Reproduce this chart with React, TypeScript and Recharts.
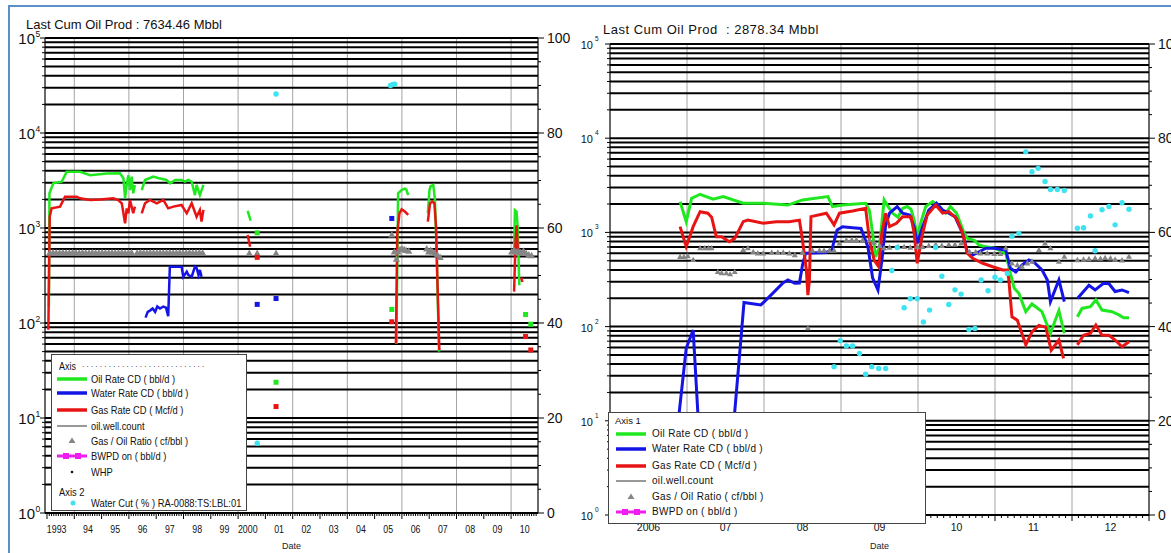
import React from 'react';
import { ComposedChart, Line, Scatter, XAxis, YAxis, CartesianGrid } from 'recharts';

type Pt = [number, number | null];

// ---- left well, 1993-2010 : [decimal year, value] ----
const leftOil: Pt[] = [
  [1993.07, 150], [1993.09, 2320], [1993.23, 2950], [1993.54, 3070], [1993.72, 3900], [1994.21, 3900],
  [1994.58, 3600], [1995.19, 3750], [1995.67, 3770], [1995.8, 3340], [1995.86, 2060], [1995.92, 2840],
  [1995.98, 3600], [1996.04, 2500], [1996.1, 3470], [1996.16, 2320], [1996.22, 2840], [1996.3, null],
  [1996.47, 2510], [1996.59, 3200], [1996.75, 3340], [1996.89, 3470], [1997.1, 3340], [1997.38, 3200],
  [1997.51, 2950], [1997.7, 3200], [1997.93, 3200], [1998.05, 3070], [1998.18, 3200], [1998.3, 3070],
  [1998.42, 2220], [1998.48, 2840], [1998.6, 2220], [1998.73, 2840], [1998.8, null],
  [2000.35, 1515], [2000.46, 1194], [2000.5, null],
  [2005.8, 60], [2005.86, 2320], [2005.99, 2510], [2006.1, 2600], [2006.16, 2550], [2006.23, 2220], [2006.3, null],
  [2006.95, 1428], [2007.01, 2512], [2007.05, 2760], [2007.15, 2837], [2007.21, 1972], [2007.27, 600],
  [2007.36, 50], [2007.4, null],
  [2010.11, 600], [2010.14, 1540], [2010.2, 1490], [2010.24, 1030], [2010.3, 250],
];
const leftWater: Pt[] = [
  [1996.61, 114], [1996.69, 131], [1996.77, 135], [1996.87, 142], [1996.96, 131], [1997.04, 149],
  [1997.14, 142], [1997.26, 149], [1997.36, 145], [1997.44, 118], [1997.5, 392], [1997.93, 392],
  [1997.99, 307], [1998.12, 347], [1998.18, 320], [1998.3, 307], [1998.42, 392], [1998.48, 380],
  [1998.55, 320], [1998.6, 362], [1998.66, 307],
];
const leftGas: Pt[] = [
  [1993.05, 85], [1993.1, 1315], [1993.17, 1611], [1993.48, 1678], [1993.66, 2138], [1994.09, 2138],
  [1994.21, 2055], [1994.58, 1972], [1994.94, 2000], [1995.43, 2055], [1995.61, 1972], [1995.74, 1820],
  [1995.86, 1120], [1995.92, 1611], [1995.98, 1428], [1996.04, 1972], [1996.16, 1428], [1996.22, 1678],
  [1996.3, null], [1996.47, 1428], [1996.59, 1820], [1996.77, 1972], [1997.02, 1820], [1997.26, 1972],
  [1997.44, 1611], [1997.63, 1678], [1997.93, 1746], [1998.12, 1428], [1998.3, 1820], [1998.48, 1315],
  [1998.6, 1550], [1998.66, 1166], [1998.73, 1550], [1998.8, null],
  [2000.35, 843], [2000.44, 633], [2000.5, null],
  [2005.78, 61], [2005.83, 885], [2005.91, 1428], [2005.99, 1574], [2006.11, 1490], [2006.23, 1371], [2006.3, null],
  [2006.95, 1166], [2007.03, 1820], [2007.11, 1900], [2007.19, 1820], [2007.25, 1030], [2007.3, 284],
  [2007.37, 52], [2007.4, null],
  [2010.11, 214], [2010.16, 700], [2010.2, 1070], [2010.25, 560], [2010.3, null],
  [2010.37, 300], [2010.41, 270],
];
const leftGor: Pt[] = [
  [1993.1, 545], [1993.22, 550], [1993.34, 545], [1993.46, 545], [1993.58, 550], [1993.7, 545],
  [1993.82, 545], [1993.94, 550], [1994.06, 545], [1994.18, 545], [1994.3, 550], [1994.42, 545],
  [1994.54, 545], [1994.66, 550], [1994.78, 545], [1994.9, 545], [1995.02, 550], [1995.14, 545],
  [1995.26, 545], [1995.38, 550], [1995.5, 545], [1995.62, 545], [1995.74, 550], [1995.86, 545],
  [1995.98, 545], [1996.1, 550], [1996.3, 545], [1996.42, 550], [1996.54, 545], [1996.66, 545],
  [1996.78, 550], [1996.9, 545], [1997.02, 545], [1997.14, 550], [1997.26, 545], [1997.38, 545],
  [1997.5, 550], [1997.62, 545], [1997.74, 545], [1997.86, 550], [1997.98, 545], [1998.1, 545],
  [1998.22, 550], [1998.34, 545], [1998.46, 545], [1998.58, 550], [1998.7, 545],
  [2000.41, 540], [2000.7, 540], [2001.39, 540],
  [2005.63, 845], [2005.72, 560], [2005.8, 470], [2005.86, 560], [2005.93, 590], [2006.0, 600],
  [2006.08, 590], [2006.15, 580], [2006.25, 570],
  [2006.91, 600], [2006.98, 560], [2007.05, 580], [2007.12, 560], [2007.2, 540], [2007.3, 520], [2007.4, 490],
  [2010.02, 560], [2010.1, 580], [2010.18, 560], [2010.26, 560], [2010.35, 550], [2010.45, 570],
  [2010.55, 540], [2010.65, 520], [2010.75, 510],
];
const leftOilPts: Pt[] = [[2000.7, 890], [2001.39, 23.8], [2005.63, 139], [2010.53, 123], [2010.72, 97]];
const leftWaterPts: Pt[] = [[2000.7, 157], [2001.39, 181], [2005.63, 1260]];
const leftGasPts: Pt[] = [[2000.7, 491], [2001.39, 13.2], [2005.63, 103], [2010.53, 72], [2010.72, 52]];
const leftWaterCut: Pt[] = [[2000.7, 14.7], [2001.39, 88.2], [2005.58, 90.0], [2005.66, 90.2], [2005.74, 90.3]];

// ---- right well, 2006-2012 ----
const rightOil: Pt[] = [
  [2006.91, 2120], [2006.99, 1300], [2007.06, 2300], [2007.17, 2540], [2007.34, 2250], [2007.47, 2400],
  [2007.73, 2040], [2007.99, 2040], [2008.31, 1950], [2008.5, 2210], [2008.83, 2400], [2008.89, 1880],
  [2009.02, 1950], [2009.32, 2040], [2009.37, 1700], [2009.41, 980], [2009.45, 550], [2009.5, 700],
  [2009.56, 2210], [2009.6, 1950], [2009.67, 1600], [2009.74, 1450], [2009.8, 1800], [2009.86, 1880],
  [2009.91, 1750], [2009.95, 1350], [2009.99, 900], [2010.04, 1300], [2010.1, 1880], [2010.19, 2120],
  [2010.28, 1880], [2010.36, 1600], [2010.42, 1880], [2010.5, 1600], [2010.6, 980], [2010.64, 865],
  [2010.73, 825], [2010.79, 735], [2010.88, 705], [2011.0, 680], [2011.14, 600], [2011.2, 368],
  [2011.25, 255], [2011.31, 226], [2011.4, 144], [2011.48, 174], [2011.61, 144], [2011.72, 85],
  [2011.83, 148], [2011.9, 85], [2011.95, null],
  [2012.07, 127], [2012.13, 156], [2012.24, 163], [2012.31, 192], [2012.39, 150], [2012.52, 144],
  [2012.61, 133], [2012.67, 124], [2012.74, 124],
];
const rightWater: Pt[] = [
  [2006.86, 1.5], [2006.9, 12.5], [2006.99, 59], [2007.08, 92], [2007.14, 12.5], [2007.18, 1.5],
  [2007.58, 1.5], [2007.62, 12.5], [2007.71, 92], [2007.74, 180], [2007.85, 175], [2007.96, 170],
  [2008.09, 216], [2008.24, 288], [2008.31, 313], [2008.4, 288], [2008.46, 290], [2008.5, 450],
  [2008.54, 600], [2008.8, 610], [2008.88, 650], [2008.95, 1060], [2009.02, 1150], [2009.15, 1120],
  [2009.26, 1100], [2009.35, 700], [2009.41, 330], [2009.48, 245], [2009.53, 500], [2009.58, 1200],
  [2009.63, 1600], [2009.73, 1880], [2009.8, 1600], [2009.89, 1530], [2009.95, 1150], [2009.99, 765],
  [2010.06, 1150], [2010.14, 1720], [2010.24, 2040], [2010.32, 1720], [2010.4, 1600], [2010.48, 1470],
  [2010.58, 977], [2010.64, 620], [2010.71, 575], [2010.79, 620], [2010.88, 680], [2010.99, 680],
  [2011.14, 650], [2011.2, 416], [2011.27, 380], [2011.35, 450], [2011.44, 509], [2011.52, 470],
  [2011.61, 400], [2011.68, 313], [2011.72, 184], [2011.83, 313], [2011.9, 184], [2011.95, null],
  [2012.07, 199], [2012.22, 275], [2012.3, 245], [2012.41, 288], [2012.48, 285], [2012.56, 236],
  [2012.65, 245], [2012.74, 229],
];
const rightGas: Pt[] = [
  [2006.91, 1150], [2006.99, 705], [2007.08, 1150], [2007.17, 1660], [2007.27, 1600], [2007.32, 1450],
  [2007.38, 900], [2007.45, 900], [2007.55, 795], [2007.62, 865], [2007.73, 1300], [2007.79, 1350],
  [2007.99, 1250], [2008.16, 1300], [2008.33, 1300], [2008.46, 1350], [2008.5, 825], [2008.55, 400],
  [2008.57, 216], [2008.59, 313], [2008.61, 1470], [2008.81, 1600], [2008.91, 1200], [2008.98, 1600],
  [2009.15, 1690], [2009.32, 1800], [2009.37, 825], [2009.43, 509], [2009.49, 432], [2009.53, 977],
  [2009.58, 1600], [2009.63, 1150], [2009.72, 1250], [2009.8, 1470], [2009.91, 1470], [2009.95, 977],
  [2009.99, 470], [2010.06, 977], [2010.12, 1530], [2010.23, 1950], [2010.32, 1600], [2010.4, 1660],
  [2010.5, 1410], [2010.58, 977], [2010.64, 600], [2010.71, 530], [2010.84, 470], [2010.97, 432],
  [2011.1, 400], [2011.16, 400], [2011.18, 313], [2011.22, 127], [2011.29, 117], [2011.4, 64],
  [2011.48, 88], [2011.57, 103], [2011.66, 98], [2011.73, 56], [2011.83, 72], [2011.89, 46], [2011.95, null],
  [2012.07, 64], [2012.15, 81], [2012.24, 85], [2012.31, 104], [2012.39, 81], [2012.48, 81],
  [2012.56, 72], [2012.65, 61], [2012.74, 69],
];
const rightGor: Pt[] = [
  [2006.91, 550], [2006.96, 550], [2007.01, 560], [2007.08, 510], [2007.17, 680], [2007.23, 680],
  [2007.28, 680], [2007.32, 680], [2007.4, 380], [2007.45, 370], [2007.51, 370], [2007.56, 360],
  [2007.62, 380], [2007.73, 650], [2007.79, 680], [2007.86, 620], [2007.92, 600], [2007.99, 600],
  [2008.1, 610], [2008.18, 610], [2008.25, 610], [2008.33, 600], [2008.4, 575], [2008.5, 610],
  [2008.57, 96], [2008.63, 640], [2008.72, 640], [2008.78, 640], [2008.85, 640], [2008.91, 640],
  [2008.98, 765], [2009.07, 825], [2009.14, 830], [2009.2, 830], [2009.28, 825], [2009.37, 825],
  [2009.43, 780], [2009.5, 720], [2009.56, 680], [2009.63, 690], [2009.74, 700], [2009.82, 700],
  [2009.9, 690], [2009.99, 700], [2010.06, 700], [2010.14, 720], [2010.23, 740], [2010.31, 720],
  [2010.4, 740], [2010.48, 740], [2010.56, 765], [2010.67, 620], [2010.75, 620], [2010.81, 600],
  [2010.9, 600], [2010.99, 590], [2011.07, 590], [2011.14, 680], [2011.22, 470], [2011.29, 450],
  [2011.35, 432], [2011.42, 470], [2011.48, 490], [2011.57, 650], [2011.65, 765], [2011.72, 680],
  [2011.83, 490], [2011.9, 552], [2012.07, 509], [2012.15, 515], [2012.22, 520], [2012.3, 530],
  [2012.37, 525], [2012.43, 535], [2012.5, 530], [2012.56, 515], [2012.65, 505], [2012.74, 552],
];
const rightWaterCut: Pt[] = [
  [2008.91, 31.5], [2008.99, 37.0], [2009.07, 35.9], [2009.15, 35.9], [2009.24, 34.3], [2009.32, 29.9],
  [2009.4, 31.5], [2009.49, 31.1], [2009.58, 31.1], [2009.66, 51.9], [2009.73, 56.8], [2009.82, 44.0],
  [2009.9, 45.9], [2009.99, 45.9], [2010.07, 41.0], [2010.15, 43.5], [2010.23, 56.8], [2010.31, 50.7],
  [2010.4, 44.7], [2010.48, 47.8], [2010.56, 46.9], [2010.66, 39.4], [2010.74, 39.6], [2010.82, 49.9],
  [2010.91, 47.6], [2011.0, 50.5], [2011.07, 49.9], [2011.16, 51.3], [2011.22, 59.2], [2011.31, 59.8],
  [2011.4, 77.1], [2011.48, 72.9], [2011.56, 73.6], [2011.65, 70.8], [2011.72, 69.1], [2011.81, 69.1],
  [2011.9, 68.9], [2012.07, 60.9], [2012.15, 61.0], [2012.24, 63.5], [2012.3, 56.1], [2012.39, 64.8],
  [2012.48, 65.5], [2012.56, 61.6], [2012.65, 66.3], [2012.74, 64.9],
];

const leftYearLabels = ['1993', '94', '95', '96', '97', '98', '99', '2000', '01', '02', '03', '04', '05', '06', '07', '08', '09', '10'];
const rightYearLabels = ['2006', '07', '08', '09', '10', '11', '12'];
const leftTitle = 'Last Cum Oil Prod : 7634.46 Mbbl';
const rightTitle = 'Last Cum Oil Prod  : 2878.34 Mbbl';

const GREEN = '#1fe81f';
const BLUE = '#1414e6';
const RED = '#e81414';
const GREY = '#858585';
const CYAN = '#3de3f0';
const MAGENTA = '#f01cf0';
const FONT = '"Liberation Sans", Arial, sans-serif';

const logTicks = [0, 1, 2, 3, 4].flatMap((e) => [1, 2, 3, 4, 5, 6, 7, 8, 9].map((m) => m * 10 ** e)).concat(100000);
const pctTicks = Array.from({ length: 21 }, (_, i) => i * 5);

const rows = (pts: Pt[]) => pts.map(([t, v]) => ({ t, v }));

const L = {
  width: 578, top: 38, left: 45, right: 538, bottom: 513, xH: 40, leftW: 45, rightW: 40,
  domain: [1992.927, 2010.985], firstYear: 1993, yearLabels: leftYearLabels,
  xFont: 11, xScale: 0.8, xDy: 20, dx4: -4,
  logFont: 15, logGap: 10, logDy: 5.5, supFont: 8.5, supDx: 0.5, supDy: -1,
  pctFont: 14, lineW: 2.5, tri: 3.6,
};
const R = {
  width: 593, top: 44, left: 32, right: 571, bottom: 515, xH: 38, leftW: 32, rightW: 22,
  domain: [2006, 2013], firstYear: 2006, yearLabels: rightYearLabels,
  xFont: 10.5, xScale: 1, xDy: 16, dx4: 0,
  logFont: 11, logGap: 17, logDy: 5, supFont: 6.5, supDx: 2, supDy: -3,
  pctFont: 14, lineW: 3, tri: 3,
};

const monthTicks = (d: number[]) => {
  const out: number[] = [];
  for (let y = Math.floor(d[0]); y <= Math.ceil(d[1]); y++) {
    for (let m = 0; m < 12; m++) {
      const v = +(y + m / 12).toFixed(4);
      if (v >= d[0] && v <= d[1]) out.push(v);
    }
  }
  return out;
};
const yearTicks = (d: number[]) => {
  const out: number[] = [];
  for (let y = Math.ceil(d[0]); y <= d[1]; y++) out.push(y);
  return out;
};

const MonthTick = ({ x, payload, cfg }: any) => {
  const v = payload.value;
  const yr = Math.floor(v + 1e-6);
  const f = v - yr;
  const isYear = f < 0.001;
  const label = Math.abs(f - 0.5) < 0.001 ? cfg.yearLabels[yr - cfg.firstYear] : null;
  return (
    <g>
      <line x1={x} x2={x} y1={cfg.bottom} y2={cfg.bottom + (isYear ? 6 : 3)} stroke="#000" />
      {label && (
        <text
          transform={`translate(${x + (label.length === 4 ? cfg.dx4 : 0)},${cfg.bottom + cfg.xDy}) scale(${cfg.xScale},1)`}
          textAnchor="middle" fontSize={cfg.xFont} fill="#111" fontFamily={FONT}
        >
          {label}
        </text>
      )}
    </g>
  );
};

const LogTick = ({ y, payload, cfg }: any) => {
  const e = Math.log10(payload.value);
  const major = Math.abs(e - Math.round(e)) < 1e-6;
  const tx = cfg.left - cfg.logGap;
  return (
    <g>
      <line x1={cfg.left - (major ? 5 : 3)} x2={cfg.left} y1={y} y2={y} stroke="#000" />
      {major && (
        <>
          <text x={tx} y={y + cfg.logDy} textAnchor="end" fontSize={cfg.logFont} fill="#111" fontFamily={FONT}>10</text>
          <text x={tx + cfg.supDx} y={y + cfg.supDy} fontSize={cfg.supFont} fill="#111" fontFamily={FONT}>{Math.round(e)}</text>
        </>
      )}
    </g>
  );
};

const PctTick = ({ y, payload, cfg }: any) => {
  const v = payload.value;
  const major = v % 20 === 0;
  return (
    <g>
      <line x1={cfg.right} x2={cfg.right + (major ? 6 : 3)} y1={y} y2={y} stroke="#000" />
      {major && (
        <text x={cfg.right + 9} y={y + 5} fontSize={cfg.pctFont} fill="#111" fontFamily={FONT}>{v}</text>
      )}
    </g>
  );
};

const triShape = (s: number) => (p: any) => (
  <polygon points={`${p.cx},${p.cy - s * 1.1} ${p.cx - s},${p.cy + s * 0.7} ${p.cx + s},${p.cy + s * 0.7}`} fill={GREY} />
);
const squareShape = (color: string) => (p: any) => (
  <rect x={p.cx - 2.5} y={p.cy - 2.5} width={5} height={5} fill={color} />
);
const dotShape = (p: any) => <circle cx={p.cx} cy={p.cy} r={2.7} fill={CYAN} />;

function Panel({ cfg, children }: any) {
  return (
    <ComposedChart width={cfg.width} height={553} margin={{ top: cfg.top, right: 0, bottom: 0, left: 0 }}>
      <XAxis
        xAxisId="x" type="number" dataKey="t" domain={cfg.domain} allowDataOverflow
        ticks={monthTicks(cfg.domain)} interval={0} tickLine={false} height={cfg.xH}
        axisLine={{ stroke: '#000' }} tick={(p: any) => <MonthTick {...p} cfg={cfg} />}
        label={{ value: 'Date', position: 'insideBottom', offset: 4, fontSize: 9, fill: '#222', fontFamily: FONT }}
      />
      <XAxis xAxisId="yr" type="number" dataKey="t" domain={cfg.domain} allowDataOverflow ticks={yearTicks(cfg.domain)} hide />
      <YAxis
        yAxisId="log" dataKey="v" scale="log" domain={[1, 100000]} allowDataOverflow ticks={logTicks} interval={0}
        width={cfg.leftW} tickLine={false} axisLine={{ stroke: '#000' }} tick={(p: any) => <LogTick {...p} cfg={cfg} />}
      />
      <YAxis
        yAxisId="pct" dataKey="v" orientation="right" domain={[0, 100]} allowDataOverflow ticks={pctTicks} interval={0}
        width={cfg.rightW} tickLine={false} axisLine={{ stroke: '#000' }} tick={(p: any) => <PctTick {...p} cfg={cfg} />}
      />
      <CartesianGrid xAxisId="yr" yAxisId="log" horizontal={false} stroke="#a4a4a4" strokeWidth={1} />
      <CartesianGrid xAxisId="yr" yAxisId="log" vertical={false} stroke="#000" strokeWidth={2} />
      {children}
    </ComposedChart>
  );
}

const series = (cfg: any, oil: Pt[], water: Pt[], gas: Pt[]) => [
  <Line key="oil" data={rows(oil)} dataKey="v" xAxisId="x" yAxisId="log" stroke={GREEN} strokeWidth={cfg.lineW} dot={false} isAnimationActive={false} />,
  <Line key="water" data={rows(water)} dataKey="v" xAxisId="x" yAxisId="log" stroke={BLUE} strokeWidth={cfg.lineW} dot={false} isAnimationActive={false} />,
  <Line key="gas" data={rows(gas)} dataKey="v" xAxisId="x" yAxisId="log" stroke={RED} strokeWidth={cfg.lineW} dot={false} isAnimationActive={false} />,
];

const Swatch = ({ kind, color }: any) => {
  if (kind === 'line') return <line x1={0} x2={30} y1={7} y2={7} stroke={color} strokeWidth={3.5} />;
  if (kind === 'thin') return <line x1={0} x2={30} y1={7} y2={7} stroke="#333" strokeWidth={1} />;
  if (kind === 'tri') return <polygon points="15,3.5 11.5,9 18.5,9" fill={GREY} />;
  if (kind === 'bwpd')
    return (
      <g>
        <line x1={0} x2={30} y1={7} y2={7} stroke={MAGENTA} strokeWidth={3} />
        <rect x={6} y={4} width={6} height={6} fill={MAGENTA} />
        <rect x={18} y={4} width={6} height={6} fill={MAGENTA} />
      </g>
    );
  if (kind === 'whp') return <circle cx={15} cy={7} r={1.3} fill="#111" />;
  if (kind === 'cut') return <circle cx={16} cy={7} r={2.5} fill={CYAN} />;
  return null;
};

const leftLegend = [
  { cy: 24, kind: 'line', color: GREEN, text: 'Oil Rate CD ( bbl/d )' },
  { cy: 38, kind: 'line', color: BLUE, text: 'Water Rate CD ( bbl/d )' },
  { cy: 55, kind: 'line', color: RED, text: 'Gas Rate CD ( Mcf/d )' },
  { cy: 71, kind: 'thin', text: 'oil.well.count' },
  { cy: 86, kind: 'tri', text: 'Gas / Oil Ratio ( cf/bbl )' },
  { cy: 101, kind: 'bwpd', text: 'BWPD on ( bbl/d )' },
  { cy: 117, kind: 'whp', text: 'WHP' },
  { cy: 148, kind: 'cut', text: 'Water Cut ( % ) RA-0088:TS:LBL:01' },
];
const rightLegend = [
  { cy: 21, kind: 'line', color: GREEN, text: 'Oil Rate CD ( bbl/d )' },
  { cy: 36, kind: 'line', color: BLUE, text: 'Water Rate CD ( bbl/d )' },
  { cy: 53, kind: 'line', color: RED, text: 'Gas Rate CD ( Mcf/d )' },
  { cy: 68, kind: 'thin', text: 'oil.well.count' },
  { cy: 84, kind: 'tri', text: 'Gas / Oil Ratio ( cf/bbl )' },
  { cy: 99, kind: 'bwpd', text: 'BWPD on ( bbl/d )' },
];

const LegendBox = ({ box, items, swX, txX, font, spacing, scale, heads }: any) => (
  <div
    style={{
      position: 'absolute', left: box[0], top: box[1], width: box[2], height: box[3], background: '#fff',
      border: '1.5px solid #444', boxSizing: 'border-box', fontFamily: FONT, color: '#111',
    }}
  >
    {heads.map((h: any) => (
      <div key={h.text} style={{ position: 'absolute', left: h.x, top: h.cy - 7, height: 14, lineHeight: '14px', fontSize: h.font, transform: `scaleX(${h.scale})`, transformOrigin: 'left', whiteSpace: 'nowrap' }}>
        {h.text}
      </div>
    ))}
    {items.map((it: any) => (
      <div key={it.text} style={{ position: 'absolute', left: 0, top: it.cy - 7, height: 14, width: '100%' }}>
        <svg width={32} height={14} style={{ position: 'absolute', left: swX, top: 0 }}>
          <Swatch kind={it.kind} color={it.color} />
        </svg>
        <div style={{ position: 'absolute', left: txX, top: 0, lineHeight: '14px', fontSize: font, letterSpacing: spacing, transform: `scaleX(${scale})`, transformOrigin: 'left', whiteSpace: 'nowrap' }}>
          {it.text}
        </div>
      </div>
    ))}
  </div>
);

export default function App() {
  return (
    <div style={{ position: 'absolute', left: 0, top: 0, width: 1171, height: 553, overflow: 'hidden', background: '#fff', fontFamily: FONT }}>
      <div style={{ position: 'absolute', left: 8, top: 5, width: 1300, height: 700, border: '2px solid #5b8fca' }} />

      <div style={{ position: 'absolute', left: 0, top: 0 }}>
        <Panel cfg={L}>
          {series(L, leftOil, leftWater, leftGas)}
          <Scatter data={rows(leftGor)} dataKey="v" xAxisId="x" yAxisId="log" shape={triShape(L.tri)} isAnimationActive={false} />
          <Scatter data={rows(leftOilPts)} dataKey="v" xAxisId="x" yAxisId="log" shape={squareShape(GREEN)} isAnimationActive={false} />
          <Scatter data={rows(leftWaterPts)} dataKey="v" xAxisId="x" yAxisId="log" shape={squareShape(BLUE)} isAnimationActive={false} />
          <Scatter data={rows(leftGasPts)} dataKey="v" xAxisId="x" yAxisId="log" shape={squareShape(RED)} isAnimationActive={false} />
          <Scatter data={rows(leftWaterCut)} dataKey="v" xAxisId="x" yAxisId="pct" shape={dotShape} isAnimationActive={false} />
        </Panel>
      </div>

      <div style={{ position: 'absolute', left: 578, top: 0 }}>
        <Panel cfg={R}>
          {series(R, rightOil, rightWater, rightGas)}
          <Scatter data={rows(rightGor)} dataKey="v" xAxisId="x" yAxisId="log" shape={triShape(R.tri)} isAnimationActive={false} />
          <Scatter data={rows(rightWaterCut)} dataKey="v" xAxisId="x" yAxisId="pct" shape={dotShape} isAnimationActive={false} />
        </Panel>
      </div>

      <div style={{ position: 'absolute', left: 26, top: 18, fontSize: 13, lineHeight: '13px', whiteSpace: 'nowrap', color: '#111' }}>{leftTitle}</div>
      <div style={{ position: 'absolute', left: 603, top: 23, fontSize: 13, lineHeight: '13px', letterSpacing: 0.5, whiteSpace: 'pre', color: '#111' }}>{rightTitle}</div>

      <LegendBox
        box={[51, 354, 196, 157]} items={leftLegend} swX={5} txX={39} font={11} spacing={0} scale={0.85}
        heads={[
          { text: 'Axis', x: 7, cy: 11, font: 10.5, scale: 0.85 },
          { text: '. . . . . . . . . . . . . . . . . . . . . . . . . . . .', x: 30, cy: 10, font: 8, scale: 1 },
          { text: 'Axis 2', x: 7, cy: 137, font: 11, scale: 0.85 },
        ]}
      />
      <LegendBox
        box={[608, 412, 318, 112]} items={rightLegend} swX={7} txX={43} font={10} spacing={0.3} scale={1}
        heads={[{ text: 'Axis 1', x: 6, cy: 8, font: 9.5, scale: 1 }]}
      />
    </div>
  );
}
